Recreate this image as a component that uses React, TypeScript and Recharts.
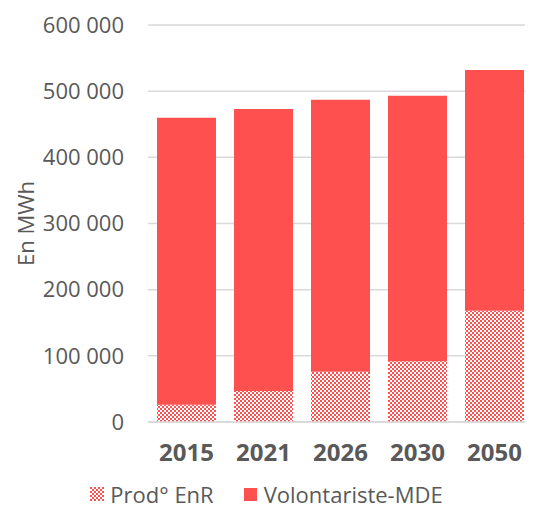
import { Bar, BarChart, CartesianGrid, Legend, XAxis, YAxis } from 'recharts'

const years = ['2015', '2021', '2026', '2030', '2050']
const prodEnr = [26000, 47000, 76000, 92000, 168000]
const volontariste = [434000, 426000, 411000, 401000, 364000]
const yTicks = [0, 100000, 200000, 300000, 400000, 500000, 600000]

const data = years.map((year, i) => ({
  year,
  enr: prodEnr[i],
  mde: volontariste[i],
}))

const RED = '#FF5050'
const TEXT = '#595959'
const FONT = '"Open Sans", "Noto Sans", sans-serif'

const fmt = (v: number) => String(v).replace(/\B(?=(\d{3})+(?!\d))/g, ' ')

function Checker({ id }: { id: string }) {
  return (
    <pattern id={id} width={4} height={4} patternUnits='userSpaceOnUse'>
      <rect width={4} height={4} fill='#ffffff' />
      <rect x={0} y={0} width={2} height={2} fill={RED} />
      <rect x={2} y={2} width={2} height={2} fill={RED} />
    </pattern>
  )
}

function LegendContent() {
  return (
    <div
      style={{
        display: 'flex',
        justifyContent: 'center',
        alignItems: 'center',
        height: 42,
        paddingTop: 14,
        boxSizing: 'border-box',
        fontFamily: FONT,
        fontSize: 22,
        lineHeight: '24px',
        color: TEXT,
      }}
    >
      <svg width={14} height={14} style={{ marginRight: 6 }}>
        <defs>
          <Checker id='legend-enr' />
        </defs>
        <rect width={14} height={14} fill='url(#legend-enr)' />
      </svg>
      <span style={{ marginRight: 30 }}>Prod° EnR</span>
      <svg width={13} height={13} style={{ marginRight: 7 }}>
        <rect width={13} height={13} fill={RED} />
      </svg>
      <span>Volontariste-MDE</span>
    </div>
  )
}

export default function App() {
  return (
    <div style={{ margin: '-8px 0 0 -8px', width: 533, height: 508 }}>
      <BarChart
        width={533}
        height={508}
        data={data}
        margin={{ top: 25, right: 0, left: 0, bottom: 0 }}
        style={{ fontFamily: FONT }}
      >
        <defs>
          <Checker id='enr-pattern' />
        </defs>
        <CartesianGrid vertical={false} stroke='#d9d9d9' strokeWidth={1.5} />
        <XAxis
          dataKey='year'
          height={44}
          tickLine={false}
          axisLine={{ stroke: '#d9d9d9', strokeWidth: 1.5 }}
          tickMargin={16}
          tick={{ fill: TEXT, fontSize: 24, fontWeight: 700 }}
        />
        <YAxis
          width={148}
          domain={[0, 600000]}
          ticks={yTicks}
          tickFormatter={fmt}
          axisLine={false}
          tickLine={false}
          tickMargin={18}
          tick={{ fill: TEXT, fontSize: 22 }}
          label={{
            value: 'En MWh',
            angle: -90,
            position: 'insideLeft',
            offset: 26,
            style: { textAnchor: 'middle', fill: TEXT, fontSize: 22 },
          }}
        />
        <Legend verticalAlign='bottom' height={42} content={<LegendContent />} />
        <Bar
          dataKey='enr'
          name='Prod° EnR'
          stackId='a'
          barSize={59}
          fill='url(#enr-pattern)'
          isAnimationActive={false}
        />
        <Bar
          dataKey='mde'
          name='Volontariste-MDE'
          stackId='a'
          barSize={59}
          fill={RED}
          isAnimationActive={false}
        />
      </BarChart>
    </div>
  )
}
